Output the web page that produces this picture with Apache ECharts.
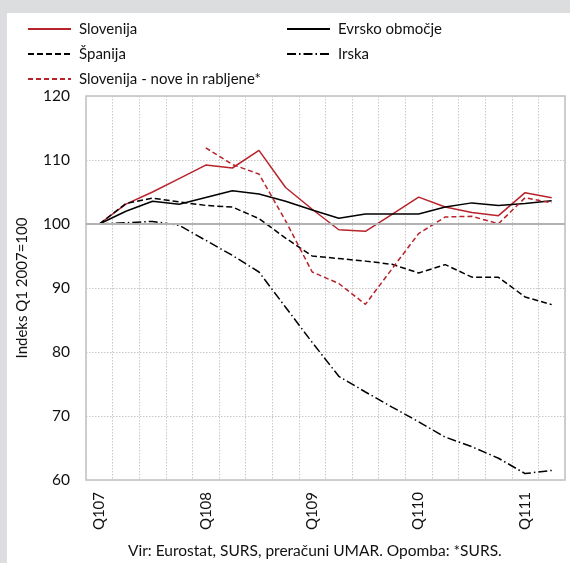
<!DOCTYPE html>
<html>
<head>
<meta charset="utf-8">
<script src="https://cdn.jsdelivr.net/npm/echarts@6/dist/echarts.min.js"></script>
<style>
html,body{margin:0;padding:0;background:#dcdddf;}
#chart{width:570px;height:563px;}
</style>
</head>
<body>
<div id="chart"></div>
<script>
var categories = ["Q107","Q207","Q307","Q407","Q108","Q208","Q308","Q408","Q109","Q209","Q309","Q409","Q110","Q210","Q310","Q410","Q111","Q211"];
var slovenija = [100,103.1,105,107.1,109.2,108.75,111.5,105.7,102.3,99.1,98.85,101.5,104.2,102.65,101.8,101.3,104.9,104.1];
var evrsko = [100,102.0,103.55,103.1,104.15,105.2,104.7,103.55,102.2,100.9,101.55,101.55,101.55,102.65,103.3,102.9,103.2,103.65];
var spanija = [100,103.2,104.05,103.45,102.9,102.65,100.85,97.8,95.0,94.6,94.2,93.7,92.35,93.65,91.7,91.67,88.6,87.4];
var irska = [100,100.2,100.4,99.8,97.45,95.1,92.5,87.0,81.5,76.2,73.75,71.4,69.1,66.7,65.2,63.4,61.0,61.5];
var sloNove = [null,null,null,null,111.9,109.3,107.8,100.5,92.5,90.7,87.45,93.0,98.5,101.1,101.2,100.05,104.1,103.3];
var baseLine = 100;
var yTicks = {min:60, max:120, interval:10};
var names = ["Slovenija","Evrsko območje","Španija","Irska","Slovenija - nove in rabljene*"];
var yName = "Indeks Q1 2007=100";
var sourceText = "Vir: Eurostat, SURS, preračuni UMAR. Opomba: *SURS.";

var FONT = "Lato, 'Open Sans', sans-serif";
var RED = "#b8232b";
var chart = echarts.init(document.getElementById('chart'));
function ser(name, data, color, type){
  return {
    name: name, type: 'line', data: data, symbol: 'none', showSymbol: false, connectNulls: false,
    lineStyle: {color: color, width: 1.5, type: type},
    itemStyle: {color: color},
    emphasis: {disabled: true}, animation: false
  };
}
var series = [
  ser(names[0], slovenija, RED, 'solid'),
  ser(names[1], evrsko, '#000', 'solid'),
  ser(names[2], spanija, '#000', [6,3]),
  ser(names[3], irska, '#000', [9,3,1.5,3]),
  ser(names[4], sloNove, RED, [5,3])
];
series.push({
  type: 'line', data: [], silent: true, animation: false,
  markLine: {silent: true, symbol: 'none', label: {show: false},
    lineStyle: {color: '#b3b3b3', width: 2, type: 'solid'},
    data: [{yAxis: baseLine}]},
  z: 1
});
var legendCommon = {
  orient: 'vertical', itemWidth: 43, itemHeight: 10, itemGap: 9,
  itemStyle: {opacity: 0},
  textStyle: {fontFamily: FONT, fontSize: 15, color: '#111', padding: [0,0,0,3], lineHeight: 16},
  selectedMode: false
};
chart.setOption({
  backgroundColor: '#dcdddf',
  animation: false,
  graphic: [
    {type: 'rect', left: 7, top: 13, shape: {width: 563, height: 550}, style: {fill: '#fff'}, z: -10, silent: true},
    {type: 'text', left: 128, top: 543, style: {text: sourceText, font: "15.5px " + FONT, fill: '#111'}}
  ],
  legend: [
    Object.assign({}, legendCommon, {left: 22, top: 16, data: [names[0], names[2], names[4]]}),
    Object.assign({}, legendCommon, {left: 281, top: 16, data: [names[1], names[3]]})
  ],
  grid: {left: 86, right: 5, top: 96, bottom: 83, show: true, borderColor: '#c0c0c0', borderWidth: 1.5, backgroundColor: 'transparent'},
  xAxis: {
    type: 'category', data: categories, boundaryGap: true,
    axisLine: {show: false}, axisTick: {show: false},
    axisLabel: {interval: 3, rotate: 90, margin: 12, fontFamily: FONT, fontSize: 15, color: '#111'},
    splitLine: {show: true, interval: 0, lineStyle: {color: '#c8c8c8', type: [1.5,1.5], width: 1}}
  },
  yAxis: {
    type: 'value', min: yTicks.min, max: yTicks.max, interval: yTicks.interval,
    name: yName, nameLocation: 'middle', nameGap: 56,
    nameTextStyle: {fontFamily: FONT, fontSize: 15, color: '#111'},
    axisLine: {show: false}, axisTick: {show: false},
    axisLabel: {margin: 16, fontFamily: FONT, fontSize: 15.5, color: '#111'},
    splitLine: {show: true, lineStyle: {color: '#c8c8c8', type: [1.5,1.5], width: 1}}
  },
  series: series
});
</script>
</body>
</html>
